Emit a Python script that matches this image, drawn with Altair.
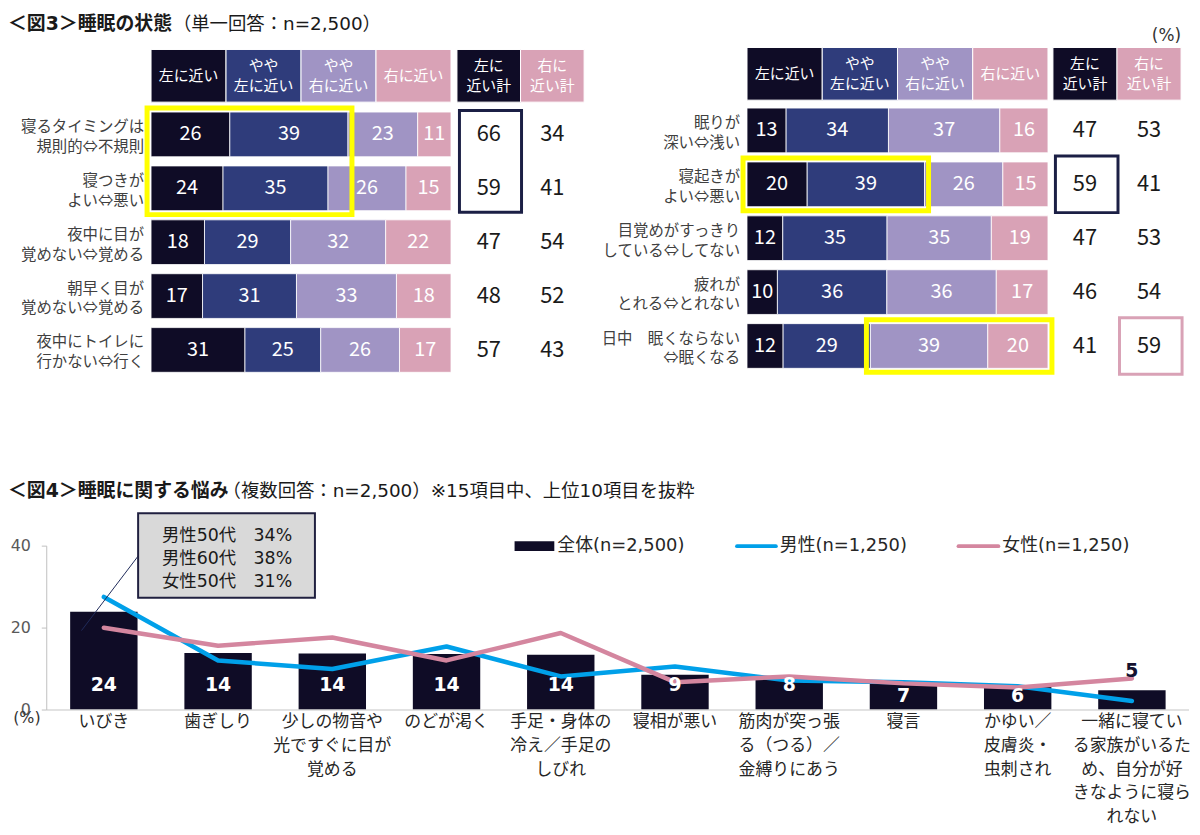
import altair as alt
import pandas as pd

FONT = "Noto Sans CJK JP"
MIX = "DejaVu Sans, Noto Sans CJK JP"
W, H = 1192, 819
OFF = 8  # page margin: canvas px = page px - OFF

# ---------------- Figure 3 data ----------------
seg_names = ["左に近い", "やや\n左に近い", "やや\n右に近い", "右に近い"]
tot_names = ["左に\n近い計", "右に\n近い計"]

left_rows = ["寝るタイミングは\n規則的⇔不規則", "寝つきが\nよい⇔悪い", "夜中に目が\n覚めない⇔覚める",
             "朝早く目が\n覚めない⇔覚める", "夜中にトイレに\n行かない⇔行く"]
left_vals = [[26, 39, 23, 11], [24, 35, 26, 15], [18, 29, 32, 22], [17, 31, 33, 18], [31, 25, 26, 17]]
left_tot_left = [66, 59, 47, 48, 57]
left_tot_right = [34, 41, 54, 52, 43]

right_rows = ["眠りが\n深い⇔浅い", "寝起きが\nよい⇔悪い", "目覚めがすっきり\nしている⇔してない",
              "疲れが\nとれる⇔とれない", "日中　眠くならない\n⇔眠くなる"]
right_vals = [[13, 34, 37, 16], [20, 39, 26, 15], [12, 35, 35, 19], [10, 36, 36, 17], [12, 29, 39, 20]]
right_tot_left = [47, 59, 47, 46, 41]
right_tot_right = [53, 41, 53, 54, 59]

# ---------------- Figure 4 data ----------------
cats4 = ["いびき", "歯ぎしり", "少しの物音や\n光ですぐに目が\n覚める", "のどが渇く",
         "手足・身体の\n冷え／手足の\nしびれ", "寝相が悪い", "筋肉が突っ張\nる（つる）／\n金縛りにあう",
         "寝言", "かゆい／\n皮膚炎・\n虫刺され", "一緒に寝てい\nる家族がいるた\nめ、自分が好\nきなように寝ら\nれない"]
all_vals = [24.0, 13.9, 13.8, 13.7, 13.5, 8.6, 7.7, 6.7, 6.0, 4.8]
all_labels = [24, 14, 14, 14, 14, 9, 8, 7, 6, 5]
male_vals = [27.6, 12.1, 10.0, 15.5, 8.2, 10.6, 7.2, 6.8, 5.8, 2.2]
female_vals = [20.1, 15.7, 17.7, 12.1, 18.8, 6.8, 8.2, 6.5, 5.5, 7.7]
series_names = ["男性(n=1,250)", "女性(n=1,250)"]
y_ticks4 = [0, 20, 40]
note_text = "男性50代　34%\n男性60代　38%\n女性50代　31%"

# ---------------- styles ----------------
C_DARK = "#0F0C26"
C_NAVY = "#2F3C7B"
C_LAV = "#A094C4"
C_PINK = "#D9A2B6"
C_YEL = "#FFFF00"
C_BLUE = "#00A0E9"
C_LPINK = "#D4869F"
seg_colors = [C_DARK, C_NAVY, C_LAV, C_PINK]
HDR_LH = 20


def build_panel(rows, vals, tl, tr, L, yellow, boxes):
    pitch = L["pitch"]
    gap = pitch - L["bh"]
    ys = L["btop"] - OFF - gap / 2
    g = gap / 2 / pitch

    def u(py):
        return (py - OFF - ys) / pitch

    yscale = alt.Scale(domain=[0, 5], range=[ys, ys + 5 * pitch], nice=False, zero=False)
    xscale = alt.Scale(domain=[0, 100], range=[L["bx0"] - OFF, L["bx1"] - OFF], nice=False, zero=False)
    cscale = alt.Scale(domain=seg_names, range=seg_colors)
    hy0, hy1 = u(L["hy0"]), u(L["hy1"])
    hym = (hy0 + hy1) / 2

    def ex(f):
        return alt.X(f, scale=xscale, axis=None)

    def ey(f):
        return alt.Y(f, scale=yscale, axis=None)

    hdr = pd.DataFrame({"seg": seg_names, "s": [k * 25 for k in range(4)],
                        "e": [(k + 1) * 25 for k in range(4)], "m": [k * 25 + 12.5 for k in range(4)],
                        "y0": hy0, "y1": hy1,
                        "yt": [hym - (s.count("\n")) * HDR_LH / 2 / pitch for s in seg_names]})
    recs = []
    for i, v in enumerate(vals):
        tot = sum(v)
        c = 0
        for n, val in zip(seg_names, v):
            s = c / tot * 100
            c += val
            e = c / tot * 100
            recs.append(dict(idx=i, seg=n, value=val, start=s, end=e, mid=(s + e) / 2,
                             y0=i + g, y1=i + 1 - g, ym=i + 0.5))
    seg = pd.DataFrame(recs)
    rowdf = pd.DataFrame({"row": rows, "x0": 0, "ym": [i + 0.5 - 7.5 / pitch for i in range(len(rows))]})
    yrec = []
    for r0, r1, k0, k1 in yellow:
        sub = seg[(seg.idx >= r0) & (seg.idx <= r1)]
        yrec.append(dict(s=sub[sub.seg == seg_names[k0]].start.min(),
                         e=sub[sub.seg == seg_names[k1]].end.max(),
                         y0=r0 + g, y1=r1 + 1 - g))
    ydf = pd.DataFrame(yrec)

    hdr_rect = alt.Chart(hdr).mark_rect(stroke="white", strokeWidth=1).encode(
        x=ex("s:Q"), x2="e:Q", y=ey("y0:Q"), y2="y1:Q",
        color=alt.Color("seg:N", scale=cscale, legend=None))
    hdr_txt = alt.Chart(hdr).mark_text(font=FONT, fontSize=15, color="white", lineBreak="\n",
                                       lineHeight=HDR_LH).encode(x=ex("m:Q"), y=ey("yt:Q"), text="seg:N")
    bars = alt.Chart(seg).mark_rect(stroke="white", strokeWidth=0.8).encode(
        x=ex("start:Q"), x2="end:Q", y=ey("y0:Q"), y2="y1:Q",
        color=alt.Color("seg:N", scale=cscale, legend=None))
    btxt = alt.Chart(seg).mark_text(font=FONT, fontSize=20, color="white").encode(
        x=ex("mid:Q"), y=ey("ym:Q"), text="value:Q")
    lbl = alt.Chart(rowdf).mark_text(font=FONT, fontSize=15.5, color="#404040", align="right", dx=-7,
                                     lineBreak="\n", lineHeight=20).encode(
        x=ex("x0:Q"), y=ey("ym:Q"), text="row:N")
    yel = alt.Chart(ydf).mark_rect(fillOpacity=0, stroke=C_YEL, strokeWidth=5, xOffset=-4, x2Offset=4,
                                   yOffset=-4, y2Offset=4).encode(
        x=ex("s:Q"), x2="e:Q", y=ey("y0:Q"), y2="y1:Q")
    A = alt.layer(hdr_rect, hdr_txt, bars, btxt, lbl, yel)

    # totals block
    tscale = alt.Scale(domain=[0, 2], range=[L["tx0"] - OFF, L["tx1"] - OFF], nice=False, zero=False)
    tcs = alt.Scale(domain=tot_names, range=[C_DARK, C_PINK])

    def tx(f):
        return alt.X(f, scale=tscale, axis=None)

    th = pd.DataFrame({"name": tot_names, "s": [0, 1], "e": [1, 2], "m": [0.5, 1.5],
                       "y0": hy0, "y1": hy1, "yt": hym - HDR_LH / 2 / pitch})
    trec = []
    for i in range(len(rows)):
        trec.append(dict(m=0.5, ym=i + 0.5, v=tl[i]))
        trec.append(dict(m=1.5, ym=i + 0.5, v=tr[i]))
    tv = pd.DataFrame(trec)
    bdf = pd.DataFrame([dict(s=c, e=c + 1, y0=r0 + g, y1=r1 + 1 - g, c=col) for c, r0, r1, col in boxes])

    th_rect = alt.Chart(th).mark_rect(stroke="white", strokeWidth=1).encode(
        x=tx("s:Q"), x2="e:Q", y=ey("y0:Q"), y2="y1:Q",
        color=alt.Color("name:N", scale=tcs, legend=None))
    th_txt = alt.Chart(th).mark_text(font=FONT, fontSize=15, color="white", lineBreak="\n",
                                     lineHeight=HDR_LH).encode(x=tx("m:Q"), y=ey("yt:Q"), text="name:N")
    tv_txt = alt.Chart(tv).mark_text(font=FONT, fontSize=22, color="#1A1A1A").encode(
        x=tx("m:Q"), y=ey("ym:Q"), text="v:Q")
    bp = L["box_pad"]
    box = alt.Chart(bdf).mark_rect(fillOpacity=0, strokeWidth=3, xOffset=2.5, x2Offset=1,
                                   yOffset=-bp, y2Offset=bp).encode(
        x=tx("s:Q"), x2="e:Q", y=ey("y0:Q"), y2="y1:Q", stroke=alt.Stroke("c:N", scale=None))
    B = alt.layer(th_rect, th_txt, tv_txt, box)
    return A, B


L_left = dict(bx0=152, bx1=454, btop=110, pitch=54.25, bh=45, hy0=47, hy1=100, tx0=460, tx1=588, box_pad=1.5)
L_right = dict(bx0=752, bx1=1055, btop=106, pitch=54.25, bh=45, hy0=45, hy1=98, tx0=1060, tx1=1189, box_pad=6)

lA, lB = build_panel(left_rows, left_vals, left_tot_left, left_tot_right, L_left,
                     yellow=[(0, 1, 0, 1)], boxes=[(0, 0, 1, "#1B1F45")])
rA, rB = build_panel(right_rows, right_vals, right_tot_left, right_tot_right, L_right,
                     yellow=[(1, 1, 0, 1), (4, 4, 2, 3)], boxes=[(0, 1, 1, "#1B1F45"), (1, 4, 4, C_PINK)])

# ---------------- Figure 4 ----------------
X0, X1 = 39, 1189        # plot area (canvas px)
Y0, Y40 = 704, 539
xs4 = alt.Scale(domain=cats4, range=[X0, X1], paddingInner=0.41, paddingOuter=0.205)
ys4 = alt.Scale(domain=[0, 40], range=[Y0, Y40], nice=False, zero=True)
df4 = pd.DataFrame({"cat": cats4, "value": all_vals, "label": all_labels})
line_df = pd.DataFrame({"cat": cats4 * 2, "series": [series_names[0]] * 10 + [series_names[1]] * 10,
                        "value": male_vals + female_vals})
tick_df = pd.DataFrame({"v": y_ticks4})
span_df = pd.DataFrame({"a": [y_ticks4[0]], "b": [y_ticks4[-1]]})


def x4(f="cat:N"):
    return alt.X(f, sort=cats4, scale=xs4, axis=None)


def y4(f):
    return alt.Y(f, scale=ys4, axis=None)


bars4 = alt.Chart(df4).mark_bar(color=C_DARK).encode(x=x4(), y=y4("value:Q"))
base4 = alt.Chart(span_df).mark_rule(color="#D9D9D9", strokeWidth=1.5).encode(
    y=y4("a:Q"), x=alt.value(X0), x2=alt.value(X1))
yline4 = alt.Chart(span_df).mark_rule(color="#BFBFBF", strokeWidth=1).encode(
    x=alt.value(X0), y=y4("a:Q"), y2="b:Q")
yticks4 = alt.Chart(tick_df).mark_rule(color="#BFBFBF", strokeWidth=1).encode(
    x=alt.value(X0 - 5), x2=alt.value(X0), y=y4("v:Q"))
ylabels4 = alt.Chart(tick_df).mark_text(font=MIX, fontSize=16, color="#595959", align="right",
                                        baseline="middle").encode(
    x=alt.value(X0 - 16), y=y4("v:Q"), text="v:Q")
xlabels4 = alt.Chart(df4).mark_text(font=FONT, fontSize=17, color="#262626", baseline="top",
                                    lineBreak="\n", lineHeight=24).encode(
    x=x4(), y=alt.value(Y0 + 4), text="cat:N")
lines4 = alt.Chart(line_df).mark_line(strokeWidth=4.5, strokeCap="round", strokeJoin="round").encode(
    x=x4(), y=y4("value:Q"),
    color=alt.Color("series:N", scale=alt.Scale(domain=series_names, range=[C_BLUE, C_LPINK]), legend=None),
    order=alt.Order("series:N"))
lbl4 = alt.Chart(df4).transform_calculate(
    ly="datum.label >= 8 ? 6.1 : (datum.label >= 6 ? 3.3 : datum.value + 4.6)"
).mark_text(font="DejaVu Sans", fontSize=19, fontWeight="bold").encode(
    x=x4(), y=y4("ly:Q"), text="label:Q",
    color=alt.condition("datum.label >= 6", alt.value("white"), alt.value("#141230")))
fig4 = alt.layer(bars4, base4, yline4, yticks4, ylabels4, xlabels4, lines4, lbl4)

one = pd.DataFrame({"k": [0]})


def txt(s, x, y, size, weight="normal", align="left", color="#1A1A1A", font=MIX, **kw):
    return alt.Chart(one).mark_text(font=font, fontSize=size, fontWeight=weight, align=align,
                                    baseline="middle", color=color, **kw).encode(
        x=alt.value(x), y=alt.value(y), text=alt.value(s))


titles = [
    txt("＜図3＞睡眠の状態", 0, 13, 19, "bold"),
    txt("（単一回答：n=2,500）", 166, 13, 18.5),
    txt("(%)", 1181, 25, 17, align="right", color="#333333"),
    txt("＜図4＞睡眠に関する悩み", 0, 484, 19, "bold"),
    txt("（複数回答：n=2,500）※15項目中、上位10項目を抜粋", 216, 484, 18.5),
    txt("(%)", 19, 712, 16, align="center", color="#333333"),
]

# legend for figure 4
leg = [
    alt.Chart(one).mark_rect(color=C_DARK).encode(x=alt.value(510), x2=alt.value(550),
                                                  y=alt.value(534), y2=alt.value(544)),
    txt("全体(n=2,500)", 553, 539, 18, color="#262626"),
    alt.Chart(one).mark_rule(color=C_BLUE, strokeWidth=4, strokeCap="round").encode(
        x=alt.value(734), x2=alt.value(773), y=alt.value(539)),
    txt("男性(n=1,250)", 777, 539, 18, color="#262626"),
    alt.Chart(one).mark_rule(color=C_LPINK, strokeWidth=4, strokeCap="round").encode(
        x=alt.value(957), x2=alt.value(997), y=alt.value(539)),
    txt("女性(n=1,250)", 1001, 539, 18, color="#262626"),
]

note = [
    alt.Chart(one).mark_rule(color="#1F2A5A", strokeWidth=1).encode(
        x=alt.value(74), y=alt.value(624), x2=alt.value(131), y2=alt.value(549)),
    alt.Chart(one).mark_rect(fill="#D9D9D9", stroke="#202040", strokeWidth=2).encode(
        x=alt.value(131), x2=alt.value(309), y=alt.value(506), y2=alt.value(591)),
    txt(note_text, 155, 529, 17.5, color="#1A1A1A", lineBreak="\n", lineHeight=23),
]

chart = alt.layer(
    lA, lB, rA, rB, fig4, *titles, *leg, *note
).resolve_scale(
    x="independent", y="independent", color="independent", stroke="independent"
).properties(
    width=W, height=H, padding=0, autosize=alt.AutoSizeParams(type="none")
).configure_view(stroke=None)

chart.save("out.html", embed_options={"renderer": "svg", "actions": False})
